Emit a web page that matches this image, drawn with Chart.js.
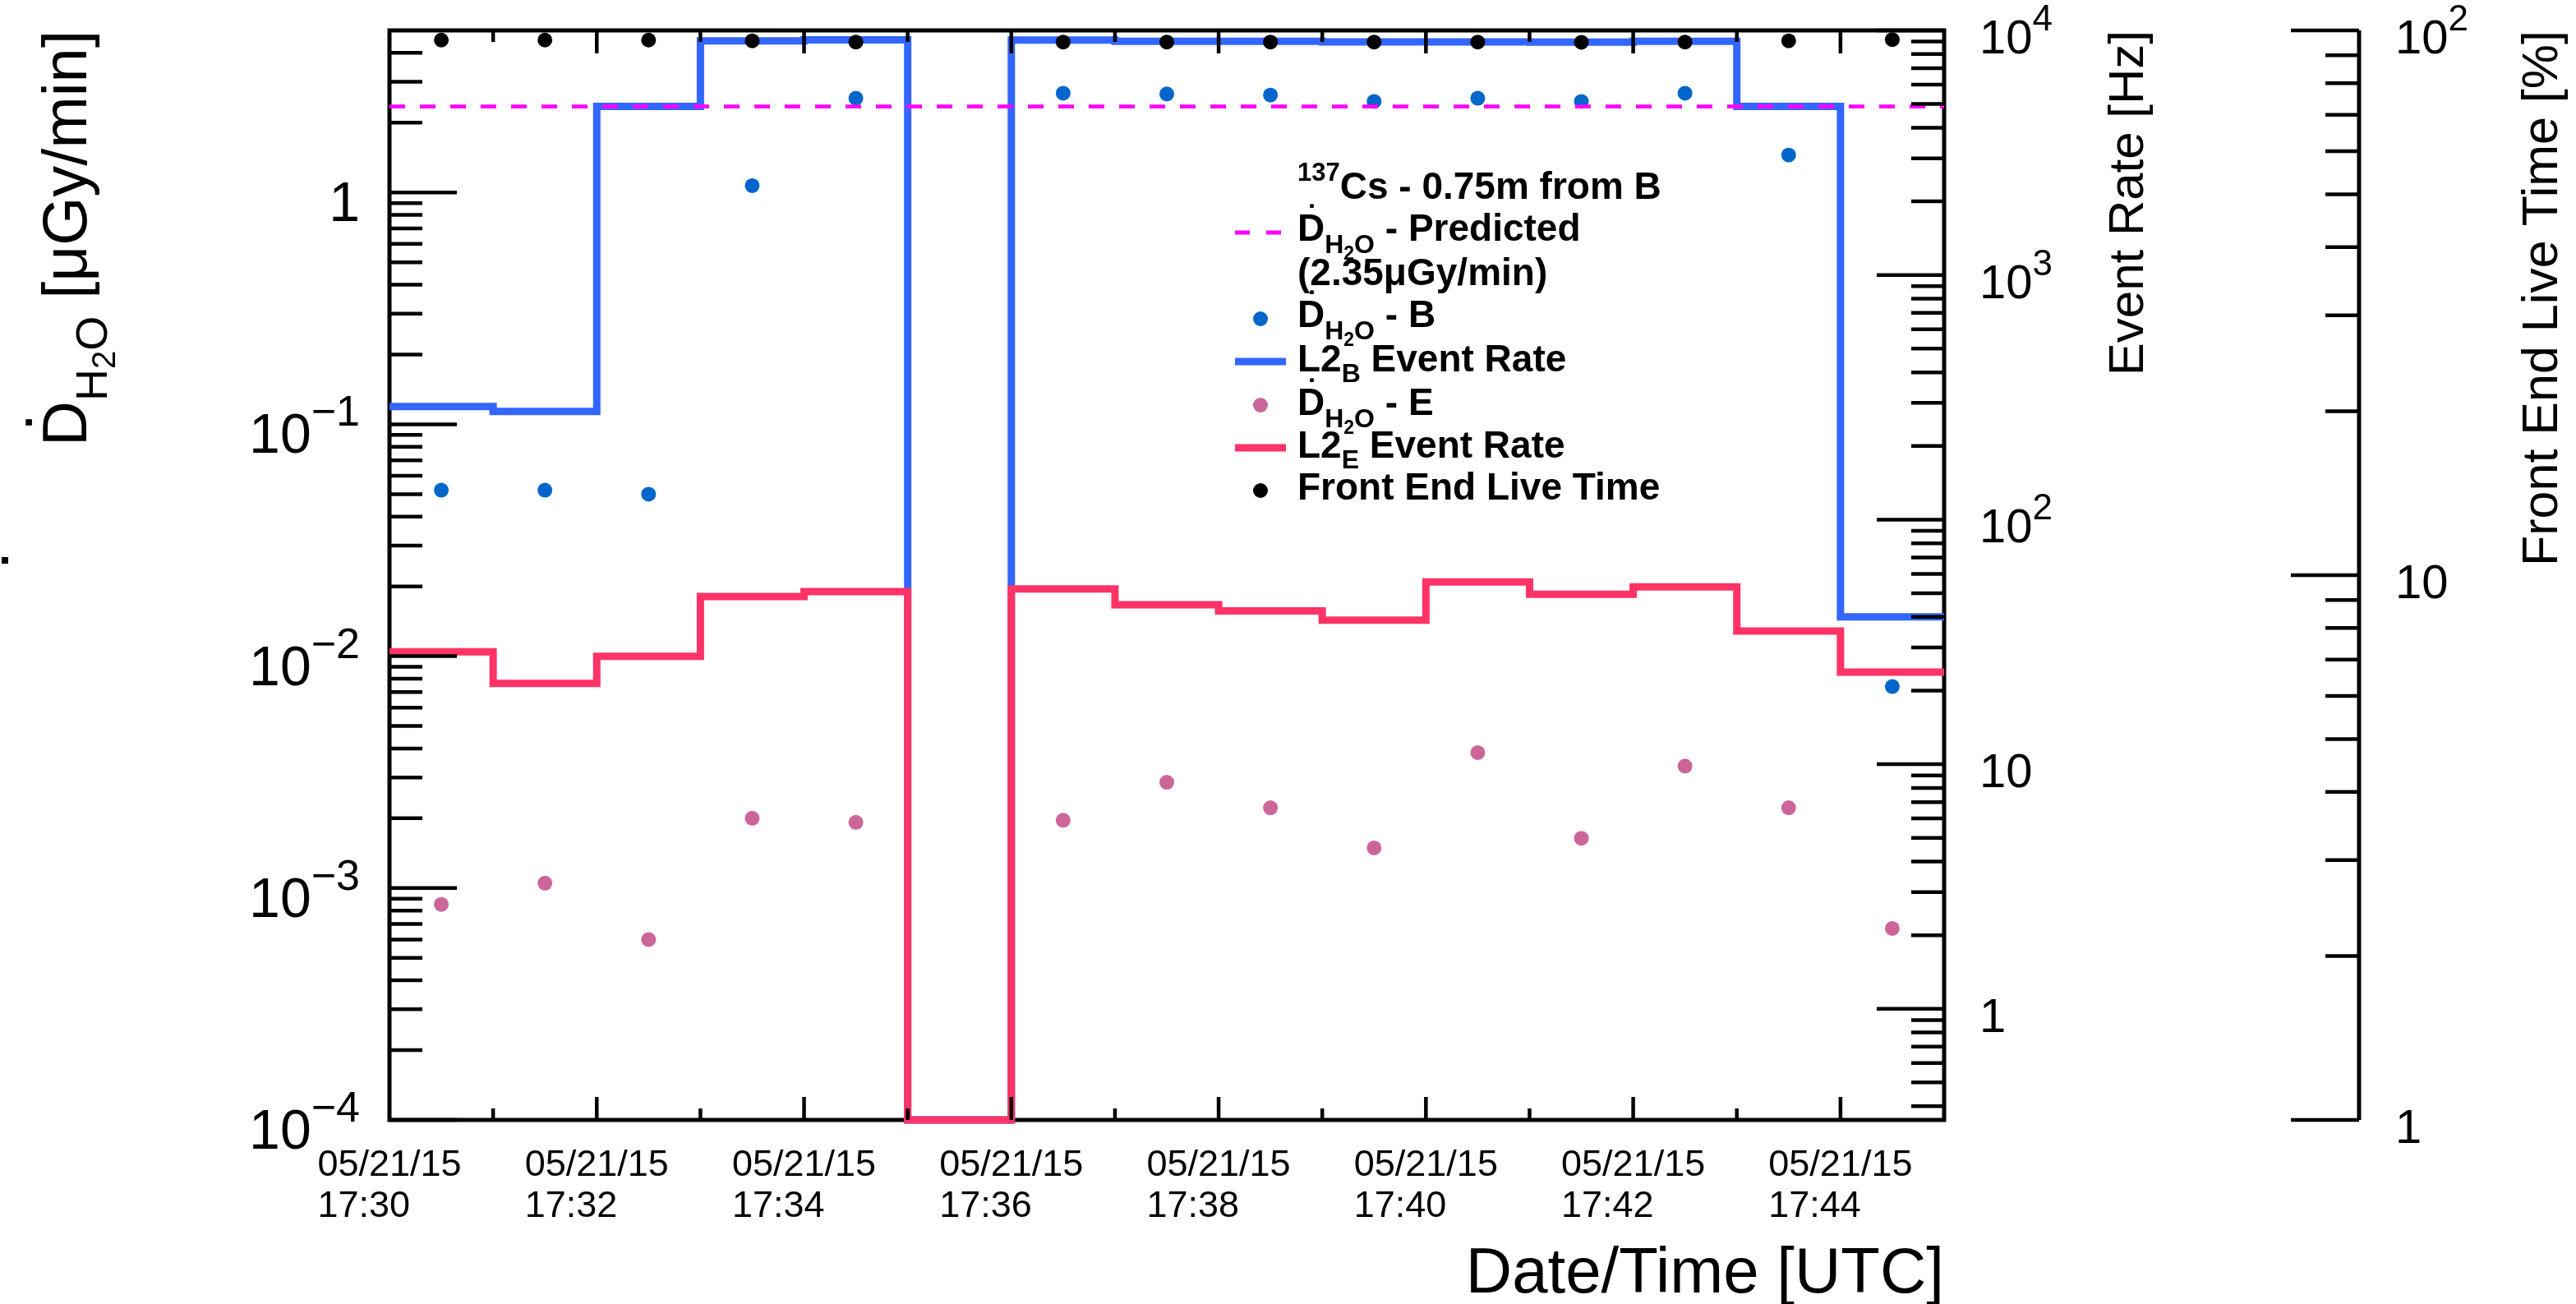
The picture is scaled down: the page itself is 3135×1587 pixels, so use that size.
<!DOCTYPE html>
<html>
<head>
<meta charset="utf-8">
<script src="https://cdn.jsdelivr.net/npm/chart.js@4.4.0/dist/chart.umd.min.js"></script>
<style>
    html, body { margin: 0; padding: 0; background: #ffffff; }
    #wrap { width: 3135px; height: 1587px; position: relative; }
</style>
</head>
<body>
<div id="wrap"><canvas id="chart"></canvas></div>
<script>
// minutes after 05/21/15 17:30 UTC
var binEdges = [0, 1, 2, 3, 4, 5, 6, 7, 8, 9, 10, 11, 12, 13, 14, 15];
var binCenters = [0.5, 1.5, 2.5, 3.5, 4.5, 5.5, 6.5, 7.5, 8.5, 9.5, 10.5, 11.5, 12.5, 13.5, 14.5];

// L2 event rates [Hz], one value per 1 min bin (0 = no events)
var rateB = [290, 277, 4890, 9060, 9150, 0, 9140, 9020, 9020, 8970, 8970, 8950, 9020, 4890, 40.0];
var rateE = [28.8, 21.4, 27.6, 48.5, 50.8, 0, 52.1, 44.9, 42.3, 38.8, 55.6, 49.5, 53.1, 35.0, 23.8];

// dose rate [uGy/min]
var doseB = [0.052, 0.052, 0.050, 1.07, 2.55, null, 2.68, 2.66, 2.63, 2.47, 2.55, 2.47, 2.68, 1.45, 0.0074];
var doseE = [0.00085, 0.00105, 0.00060, 0.0020, 0.00192, null, 0.00196, 0.00286, 0.00222, 0.00149, 0.00384, 0.00164, 0.00336, 0.00222, 0.00067];
var predictedDose = 2.35;

// front end live time [%]
var liveTime = [96.0, 96.0, 96.0, 95.7, 95.2, null, 95.2, 95.2, 95.2, 95.2, 95.2, 95.1, 95.2, 95.7, 96.2];

// axes
var timeMajor = [0, 2, 4, 6, 8, 10, 12, 14];
var timeMinor = [1, 3, 5, 7, 9, 11, 13];
var dateLabel = '05/21/15';
var timeLabels = ['17:30', '17:32', '17:34', '17:36', '17:38', '17:40', '17:42', '17:44'];

var doseRange = [1e-4, 5];
var doseMajor = [1e-4, 1e-3, 1e-2, 1e-1, 1];
var doseLabels = [['10', '\u22124'], ['10', '\u22123'], ['10', '\u22122'], ['10', '\u22121'], ['1', '']];

var rateRange = [0.3513, 1e4];
var rateMajor = [1, 10, 100, 1000, 10000];
var rateLabels = [['1', ''], ['10', ''], ['10', '2'], ['10', '3'], ['10', '4']];

var liveRange = [1, 100];
var liveMajor = [1, 10, 100];
var liveLabels = [['1', ''], ['10', ''], ['10', '2']];

var FONT = '"Liberation Sans", Arial, Helvetica, sans-serif';
var BLUE_LINE = '#3366ff';
var BLUE_DOT = '#0066cc';
var RED_LINE = '#ff3366';
var PINK_DOT = '#cc6699';
var MAGENTA = '#ff00ff';

function logTicks(majors, range) {
    var ticks = [];
    majors.forEach(function (m) { ticks.push({value: m, major: true}); });
    var decades = [majors[0] / 10].concat(majors);
    decades.forEach(function (d) {
        for (var k = 2; k <= 9; k++) {
            var v = k * d;
            if (v > range[0] * 1.0001 && v < range[1] * 0.9999) ticks.push({value: v, major: false});
        }
    });
    return ticks;
}

function stepData(values, floor) {
    var pts = values.map(function (v, i) {
        return {x: binEdges[i], y: v > 0 ? v : floor};
    });
    pts.push({x: binEdges[values.length], y: pts[pts.length - 1].y});
    return pts;
}

function pointData(values) {
    return values.map(function (v, i) { return {x: binCenters[i], y: v}; });
}

function setFont(ctx, size, bold) {
    ctx.font = (bold ? 'bold ' : '') + size + 'px ' + FONT;
}

function richWidth(ctx, parts, bold) {
    var w = 0;
    parts.forEach(function (p) {
        setFont(ctx, p.size, bold);
        w += ctx.measureText(p.t).width;
    });
    return w;
}

function drawRich(ctx, x, y, parts, bold) {
    parts.forEach(function (p) {
        setFont(ctx, p.size, bold);
        var w = ctx.measureText(p.t).width;
        ctx.fillText(p.t, x, y + (p.dy || 0));
        if (p.dot) {
            var s = Math.max(4, p.size * 0.1);
            ctx.fillRect(x + w / 2 - s / 2 + p.size * 0.02, y - p.size * 0.72 - p.size * 0.2 - s / 2, s, s);
        }
        x += w;
    });
    return x;
}

function drawVerticalTitle(ctx, baseX, endY, parts, bold) {
    ctx.save();
    ctx.translate(baseX, endY);
    ctx.rotate(-Math.PI / 2);
    ctx.textAlign = 'left';
    ctx.textBaseline = 'alphabetic';
    var w = richWidth(ctx, parts, bold);
    drawRich(ctx, -w, 0, parts, bold);
    ctx.restore();
}

function powerLabel(ctx, lab, x, y, align, baseSize, expSize, raise) {
    setFont(ctx, baseSize);
    var wb = ctx.measureText(lab[0]).width;
    setFont(ctx, expSize);
    var we = lab[1] ? ctx.measureText(lab[1]).width : 0;
    var start = align === 'right' ? x - wb - we : x;
    ctx.textAlign = 'left';
    setFont(ctx, baseSize);
    ctx.fillText(lab[0], start, y);
    if (lab[1]) {
        setFont(ctx, expSize);
        ctx.fillText(lab[1], start + wb, y - raise);
    }
}

function vTicks(ctx, scale, x, dir, minorLen, majorLen) {
    scale.ticks.forEach(function (t) {
        var y = scale.getPixelForValue(t.value);
        ctx.beginPath();
        ctx.moveTo(x, y);
        ctx.lineTo(x + dir * (t.major ? majorLen : minorLen), y);
        ctx.stroke();
    });
}

var rootAxes = {
    id: 'rootAxes',
    beforeDatasetsDraw: function (chart) {
        var ctx = chart.ctx, a = chart.chartArea;
        ctx.save();
        ctx.strokeStyle = '#000';
        ctx.lineWidth = 5;
        ctx.lineCap = 'square';
        ctx.strokeRect(a.left, a.top, a.right - a.left, a.bottom - a.top);
        ctx.restore();
    },
    afterDatasetsDraw: function (chart) {
        var ctx = chart.ctx, a = chart.chartArea;
        var xs = chart.scales.x, yd = chart.scales.yDose, yr = chart.scales.yRate, yl = chart.scales.yLive;
        ctx.save();
        ctx.strokeStyle = '#000';
        ctx.fillStyle = '#000';
        ctx.lineWidth = 4.5;
        ctx.lineCap = 'butt';

        // time ticks, bottom and top, pointing inwards
        xs.ticks.forEach(function (t) {
            var x = xs.getPixelForValue(t.value);
            if (x <= a.left + 2 || x >= a.right - 2) return;
            var len = t.major ? 28 : 14;
            ctx.beginPath();
            ctx.moveTo(x, a.bottom); ctx.lineTo(x, a.bottom - len);
            ctx.moveTo(x, a.top); ctx.lineTo(x, a.top + len);
            ctx.stroke();
        });

        // left and right axes of the frame
        vTicks(ctx, yd, a.left, 1, 40, 82);
        vTicks(ctx, yr, a.right, -1, 40, 82);

        // separate live time axis
        var lx = 2871;
        ctx.lineWidth = 5;
        ctx.beginPath();
        ctx.moveTo(lx, yl.top); ctx.lineTo(lx, yl.bottom);
        ctx.stroke();
        ctx.lineWidth = 4.5;
        vTicks(ctx, yl, lx, -1, 41, 83);

        // tick labels
        ctx.textBaseline = 'alphabetic';
        doseMajor.forEach(function (v, i) {
            powerLabel(ctx, doseLabels[i], 438, yd.getPixelForValue(v) + 35, 'right', 68, 52, 33);
        });
        rateMajor.forEach(function (v, i) {
            powerLabel(ctx, rateLabels[i], 2409, yr.getPixelForValue(v) + 28, 'left', 58, 44, 28);
        });
        liveMajor.forEach(function (v, i) {
            powerLabel(ctx, liveLabels[i], 2915, yl.getPixelForValue(v) + 28, 'left', 58, 44, 28);
        });

        setFont(ctx, 45);
        ctx.textAlign = 'left';
        timeMajor.forEach(function (v, i) {
            var x = xs.getPixelForValue(v);
            var w = ctx.measureText(dateLabel).width;
            ctx.fillText(dateLabel, x - w / 2, 1431);
            ctx.fillText(timeLabels[i], x - w / 2, 1481);
        });

        // axis titles
        setFont(ctx, 78);
        ctx.textAlign = 'right';
        ctx.fillText('Date/Time [UTC]', a.right, 1573);

        drawVerticalTitle(ctx, 105, a.top, [
            {t: 'D', size: 76, dot: true},
            {t: 'H', size: 54, dy: 25},
            {t: '2', size: 40, dy: 35},
            {t: 'O', size: 54, dy: 25},
            {t: ' [\u03bcGy/min]', size: 76}
        ]);
        drawVerticalTitle(ctx, 2608, a.top, [{t: 'Event Rate [Hz]', size: 60}]);
        drawVerticalTitle(ctx, 3112, a.top, [{t: 'Front End Live Time [%]', size: 61}]);

        // stray mark left of the y title
        ctx.fillRect(2, 678, 8, 8);

        // legend
        ctx.textAlign = 'left';
        var tx = 1579;
        var dH2O = function (tail) {
            return [
                {t: 'D', size: 46, dot: true},
                {t: 'H', size: 32, dy: 15},
                {t: '2', size: 23, dy: 23},
                {t: 'O', size: 32, dy: 15},
                {t: tail, size: 46}
            ];
        };
        drawRich(ctx, tx, 242, [{t: '137', size: 31, dy: -22}, {t: 'Cs - 0.75m from B', size: 46}], true);
        drawRich(ctx, tx, 293, dH2O(' - Predicted'), true);
        drawRich(ctx, tx, 347, [{t: '(2.35\u03bcGy/min)', size: 46}], true);
        drawRich(ctx, tx, 398, dH2O(' - B'), true);
        drawRich(ctx, tx, 452, [{t: 'L2', size: 46}, {t: 'B', size: 32, dy: 13}, {t: ' Event Rate', size: 46}], true);
        drawRich(ctx, tx, 505, dH2O(' - E'), true);
        drawRich(ctx, tx, 557, [{t: 'L2', size: 46}, {t: 'E', size: 32, dy: 13}, {t: ' Event Rate', size: 46}], true);
        drawRich(ctx, tx, 608, [{t: 'Front End Live Time', size: 46}], true);

        // legend samples
        ctx.lineCap = 'butt';
        ctx.strokeStyle = MAGENTA;
        ctx.lineWidth = 5;
        ctx.beginPath();
        ctx.moveTo(1503, 283); ctx.lineTo(1521, 283);
        ctx.moveTo(1541, 283); ctx.lineTo(1559, 283);
        ctx.stroke();
        ctx.lineWidth = 9;
        ctx.strokeStyle = BLUE_LINE;
        ctx.beginPath(); ctx.moveTo(1503, 440); ctx.lineTo(1565, 440); ctx.stroke();
        ctx.strokeStyle = RED_LINE;
        ctx.beginPath(); ctx.moveTo(1503, 545); ctx.lineTo(1565, 545); ctx.stroke();
        [[388, BLUE_DOT], [493, PINK_DOT], [597, '#000000']].forEach(function (m) {
            ctx.fillStyle = m[1];
            ctx.beginPath();
            ctx.arc(1534, m[0], 9, 0, Math.PI * 2);
            ctx.fill();
        });
        ctx.restore();
    }
};

var ctx = document.getElementById('chart').getContext('2d');
var chart = new Chart(ctx, {
    type: 'scatter',
    data: {
        datasets: [
            {
                label: 'L2_B Event Rate',
                type: 'line',
                data: stepData(rateB, rateRange[0]),
                yAxisID: 'yRate',
                stepped: true,
                borderColor: BLUE_LINE,
                borderWidth: 9,
                borderJoinStyle: 'miter',
                pointRadius: 0,
                fill: false,
                clip: false,
                order: 6
            },
            {
                label: 'L2_E Event Rate',
                type: 'line',
                data: stepData(rateE, rateRange[0]),
                yAxisID: 'yRate',
                stepped: true,
                borderColor: RED_LINE,
                borderWidth: 9,
                borderJoinStyle: 'miter',
                pointRadius: 0,
                fill: false,
                clip: false,
                order: 5
            },
            {
                label: 'D_H2O - B',
                data: pointData(doseB),
                yAxisID: 'yDose',
                backgroundColor: BLUE_DOT,
                borderWidth: 0,
                pointRadius: 9,
                order: 4
            },
            {
                label: 'D_H2O - E',
                data: pointData(doseE),
                yAxisID: 'yDose',
                backgroundColor: PINK_DOT,
                borderWidth: 0,
                pointRadius: 9,
                order: 3
            },
            {
                label: 'D_H2O - Predicted',
                type: 'line',
                data: [{x: binEdges[0], y: predictedDose}, {x: binEdges[binEdges.length - 1], y: predictedDose}],
                yAxisID: 'yDose',
                borderColor: MAGENTA,
                borderWidth: 4.7,
                borderDash: [19, 18],
                pointRadius: 0,
                fill: false,
                order: 2
            },
            {
                label: 'Front End Live Time',
                data: pointData(liveTime),
                yAxisID: 'yLive',
                backgroundColor: '#000000',
                borderWidth: 0,
                pointRadius: 9,
                clip: false,
                order: 1
            }
        ]
    },
    options: {
        responsive: true,
        maintainAspectRatio: false,
        devicePixelRatio: 1,
        animation: false,
        events: [],
        layout: {padding: {left: 474, right: 769, top: 37, bottom: 224}},
        plugins: {legend: {display: false}, tooltip: {enabled: false}, title: {display: false}},
        scales: {
            x: {
                type: 'linear', display: false, min: binEdges[0], max: binEdges[binEdges.length - 1],
                ticks: {autoSkip: false},
                afterBuildTicks: function (s) {
                    s.ticks = timeMajor.map(function (v) { return {value: v, major: true}; })
                        .concat(timeMinor.map(function (v) { return {value: v, major: false}; }));
                }
            },
            yDose: {
                type: 'logarithmic', display: false, position: 'left', min: doseRange[0], max: doseRange[1],
                ticks: {autoSkip: false},
                afterBuildTicks: function (s) { s.ticks = logTicks(doseMajor, doseRange); }
            },
            yRate: {
                type: 'logarithmic', display: false, position: 'right', min: rateRange[0], max: rateRange[1],
                ticks: {autoSkip: false},
                afterBuildTicks: function (s) { s.ticks = logTicks(rateMajor, rateRange); }
            },
            yLive: {
                type: 'logarithmic', display: false, position: 'right', min: liveRange[0], max: liveRange[1],
                ticks: {autoSkip: false},
                afterBuildTicks: function (s) { s.ticks = logTicks(liveMajor, liveRange); }
            }
        }
    },
    plugins: [rootAxes]
});
</script>
</body>
</html>
